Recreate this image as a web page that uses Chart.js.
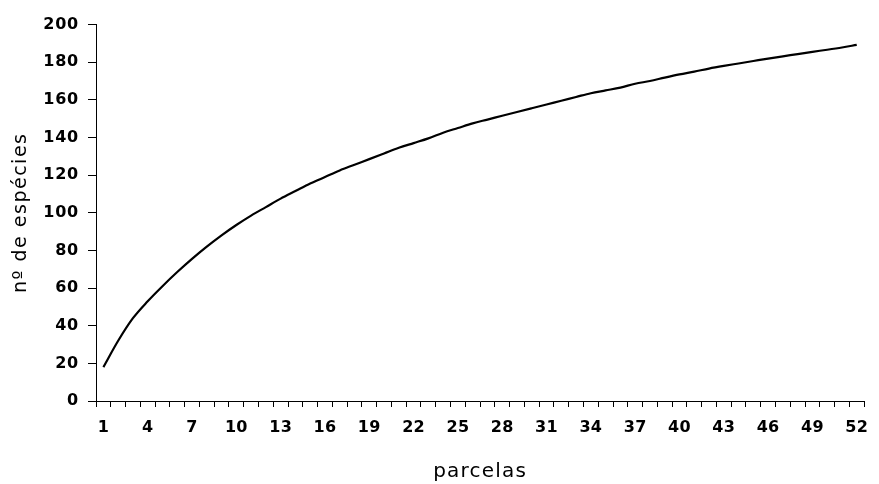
<!DOCTYPE html>
<html>
<head>
<meta charset="utf-8">
<script src="https://cdn.jsdelivr.net/npm/chart.js@4/dist/chart.umd.min.js"></script>
<style>
  html, body { margin: 0; padding: 0; background: #ffffff; }
  #wrap { width: 879px; height: 484px; }
</style>
</head>
<body>
<div id="wrap"><canvas id="curva" width="879" height="484"></canvas></div>
<script>
// Parcelas amostradas (eixo x)
const parcelas = [
  1, 2, 3, 4, 5, 6, 7, 8, 9, 10, 11, 12, 13, 14, 15, 16, 17, 18, 19, 20,
  21, 22, 23, 24, 25, 26, 27, 28, 29, 30, 31, 32, 33, 34, 35, 36, 37, 38, 39, 40,
  41, 42, 43, 44, 45, 46, 47, 48, 49, 50, 51, 52
];

// Número acumulado de espécies por parcela
const especies = [
  18, 32, 44, 53, 61, 68.5, 75.5, 82, 88, 93.5,
  98.5, 103, 107.5, 111.5, 115.5, 119, 122.5, 125.5, 128.5, 131.5,
  134.5, 137, 139.5, 142.5, 145, 147.5, 149.5, 151.5, 153.5, 155.5,
  157.5, 159.5, 161.5, 163.5, 165, 166.5, 168.5, 170, 171.8, 173.5,
  175, 176.6, 178, 179.3, 180.6, 181.9, 183.1, 184.3, 185.5, 186.6,
  187.8, 189.2
];

// Parcelas que recebem rótulo no eixo x
const rotulosX = [1, 4, 7, 10, 13, 16, 19, 22, 25, 28, 31, 34, 37, 40, 43, 46, 49, 52];

// Escala do eixo y
const yMin = 0;
const yMax = 200;
const yPasso = 20;

// Espaçamento entre letras para cada texto de eixo
const espacos = {
  x: { labels: 0.3, title: 1.2 },
  y: { labels: 0.8, title: 1.5 }
};

function comEspaco(scale, metodo, px) {
  const original = scale[metodo];
  scale[metodo] = function (...args) {
    const ctx = this.ctx;
    ctx.save();
    ctx.letterSpacing = px + 'px';
    original.apply(this, args);
    ctx.restore();
  };
}

const espacamentoPlugin = {
  id: 'espacamento',
  afterLayout(chart) {
    for (const id of Object.keys(espacos)) {
      const scale = chart.scales[id];
      if (!scale || scale._comEspaco) continue;
      comEspaco(scale, 'drawLabels', espacos[id].labels);
      comEspaco(scale, 'drawTitle', espacos[id].title);
      scale._comEspaco = true;
    }
  }
};

const preto = '#000000';

new Chart(document.getElementById('curva'), {
  type: 'line',
  data: {
    labels: parcelas,
    datasets: [{
      data: especies,
      borderColor: preto,
      borderWidth: 2.2,
      pointRadius: 0,
      tension: 0.4,
      cubicInterpolationMode: 'monotone',
      fill: false
    }]
  },
  options: {
    responsive: false,
    animation: false,
    layout: { padding: { top: 24.5, right: 13, bottom: 0, left: 0 } },
    plugins: {
      legend: { display: false },
      tooltip: { enabled: false }
    },
    scales: {
      x: {
        type: 'category',
        offset: true,
        grid: {
          offset: true,
          drawOnChartArea: false,
          drawTicks: true,
          tickLength: 6,
          color: preto,
          lineWidth: 1
        },
        border: { display: true, color: preto, width: 1 },
        ticks: {
          autoSkip: false,
          maxRotation: 0,
          minRotation: 0,
          padding: 11,
          color: preto,
          font: { family: 'DejaVu Sans', size: 16, weight: 'bold' },
          callback: function (value, index) {
            const p = parcelas[index];
            return rotulosX.includes(p) ? String(p) : '';
          }
        },
        title: {
          display: true,
          text: 'parcelas',
          color: preto,
          font: { family: 'DejaVu Sans', size: 20, weight: 'normal' },
          padding: { top: 0, bottom: 0 }
        },
        afterFit: function (scale) { scale.height = 83; }
      },
      y: {
        min: yMin,
        max: yMax,
        grid: {
          drawOnChartArea: false,
          drawTicks: true,
          tickLength: 8,
          color: preto,
          lineWidth: 1
        },
        border: { display: true, color: preto, width: 1 },
        ticks: {
          stepSize: yPasso,
          padding: 9,
          color: preto,
          font: { family: 'DejaVu Sans', size: 16, weight: 'bold' }
        },
        title: {
          display: true,
          text: 'nº de espécies',
          color: preto,
          font: { family: 'DejaVu Sans', size: 19, weight: 'normal' },
          padding: { top: 9.5, bottom: 0 }
        },
        afterFit: function (scale) { scale.width = 96; }
      }
    }
  },
  plugins: [espacamentoPlugin]
});
</script>
</body>
</html>
